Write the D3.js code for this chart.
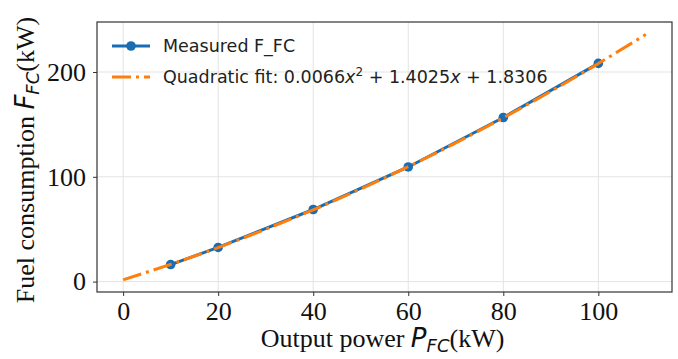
<!DOCTYPE html>
<html>
<head>
<meta charset="utf-8">
<script src="https://cdn.jsdelivr.net/npm/d3@7"></script>
<style>
  body { margin: 0; background: #fff; }
  svg { display: block; }
  .tick text { font-family: "Liberation Serif", "Times New Roman", serif; font-size: 26px; fill: #111; }
  .axis-label { font-family: "Liberation Serif", "Times New Roman", serif; font-size: 26px; fill: #111; }
  .math { font-family: "DejaVu Sans", sans-serif; font-style: italic; }
  .legend text { font-family: "DejaVu Sans", sans-serif; font-size: 17.5px; fill: #222; }
</style>
</head>
<body>
<div id="chart"></div>
<script>
// measured points
const powerKW = [10, 20, 40, 60, 80, 100];
const fuelKW = [16.3, 32.6, 68.8, 109.4, 156.6, 208.2];

// fitted curve
const fitX = [0, 10, 20, 30, 40, 50, 60, 70, 80, 90, 100, 110];
const fitY = [1.8, 16.5, 32.5, 50.0, 68.5, 88.4, 109.7, 132.3, 156.3, 181.5, 208.1, 235.9];

const xTicks = [0, 20, 40, 60, 80, 100];
const yTicks = [0, 100, 200];

const blue = "#1a6db3";
const orange = "#ff7f0e";

const width = 678;
const height = 359;
const margin = { top: 22, right: 6, bottom: 67, left: 97 };
const innerWidth = width - margin.left - margin.right;
const innerHeight = height - margin.top - margin.bottom;

const svg = d3.select("#chart")
  .append("svg")
  .attr("width", width)
  .attr("height", height);

const g = svg.append("g")
  .attr("transform", `translate(${margin.left},${margin.top})`);

const x = d3.scaleLinear()
  .domain([-5.5, 115.5])
  .range([0, innerWidth]);

const y = d3.scaleLinear()
  .domain([-9.9, 247.7])
  .range([innerHeight, 0]);

// grid
g.append("g")
  .selectAll("line")
  .data(xTicks)
  .enter()
  .append("line")
  .attr("x1", d => x(d))
  .attr("x2", d => x(d))
  .attr("y1", 0)
  .attr("y2", innerHeight)
  .attr("stroke", "#e3e3e3")
  .attr("stroke-width", 1);

g.append("g")
  .selectAll("line")
  .data(yTicks)
  .enter()
  .append("line")
  .attr("x1", 0)
  .attr("x2", innerWidth)
  .attr("y1", d => y(d))
  .attr("y2", d => y(d))
  .attr("stroke", "#e3e3e3")
  .attr("stroke-width", 1);

// measured line + markers
const line = d3.line()
  .x((d, i) => x(powerKW[i]))
  .y(d => y(d));

g.append("path")
  .datum(fuelKW)
  .attr("fill", "none")
  .attr("stroke", blue)
  .attr("stroke-width", 3)
  .attr("d", line);

g.selectAll(".pt")
  .data(fuelKW)
  .enter()
  .append("circle")
  .attr("class", "pt")
  .attr("cx", (d, i) => x(powerKW[i]))
  .attr("cy", d => y(d))
  .attr("r", 4.8)
  .attr("fill", blue);

// fit curve
const fitLine = d3.line()
  .x((d, i) => x(fitX[i]))
  .y(d => y(d))
  .curve(d3.curveMonotoneX);

g.append("path")
  .datum(fitY)
  .attr("fill", "none")
  .attr("stroke", orange)
  .attr("stroke-width", 3)
  .attr("stroke-dasharray", "19,5,3,5")
  .attr("d", fitLine);

// axes
const xAxis = d3.axisBottom(x).tickValues(xTicks).tickSize(4).tickPadding(6);
const yAxis = d3.axisLeft(y).tickValues(yTicks).tickSize(4).tickPadding(7);

const gx = g.append("g")
  .attr("transform", `translate(0,${innerHeight})`)
  .call(xAxis);
const gy = g.append("g").call(yAxis);

[gx, gy].forEach(a => {
  a.select(".domain").remove();
  a.selectAll(".tick line").attr("stroke", "#333");
});
gx.selectAll(".tick text").attr("y", 7).attr("dy", "0.8em");

g.append("rect")
  .attr("width", innerWidth)
  .attr("height", innerHeight)
  .attr("fill", "none")
  .attr("stroke", "#333")
  .attr("stroke-width", 1.2);

// axis labels
const xl = svg.append("text")
  .attr("class", "axis-label")
  .attr("x", margin.left + innerWidth / 2 - 2)
  .attr("y", height - 12)
  .attr("text-anchor", "middle");
xl.append("tspan").text("Output power ");
xl.append("tspan").attr("class", "math").text("P");
xl.append("tspan").attr("class", "math").attr("font-size", "18px").attr("dy", 5).text("FC");
xl.append("tspan").attr("dy", -5).text("(kW)");

const yl = svg.append("text")
  .attr("class", "axis-label")
  .attr("transform", "rotate(-90)")
  .attr("x", -160)
  .attr("y", 34)
  .attr("text-anchor", "middle");
yl.append("tspan").text("Fuel consumption ");
yl.append("tspan").attr("class", "math").text("F");
yl.append("tspan").attr("class", "math").attr("font-size", "18px").attr("dy", 5).text("FC");
yl.append("tspan").attr("dy", -5).text("(kW)");

// legend
const legend = svg.append("g").attr("class", "legend");

const row1 = legend.append("g").attr("transform", "translate(112,46)");
row1.append("line")
  .attr("x1", 0).attr("x2", 38)
  .attr("stroke", blue).attr("stroke-width", 3);
row1.append("circle").attr("cx", 19).attr("r", 4.8).attr("fill", blue);
row1.append("text").attr("x", 51).attr("dy", "0.35em").text("Measured F_FC");

const row2 = legend.append("g").attr("transform", "translate(112,77)");
row2.append("line")
  .attr("x1", 0).attr("x2", 38)
  .attr("stroke", orange).attr("stroke-width", 3)
  .attr("stroke-dasharray", "19,5,3,5");
const t2 = row2.append("text").attr("x", 51).attr("dy", "0.35em");
t2.append("tspan").text("Quadratic fit: 0.0066");
t2.append("tspan").attr("font-style", "italic").text("x");
t2.append("tspan").attr("font-size", "12px").attr("dy", -7).text("2");
t2.append("tspan").attr("dy", 7).text(" + 1.4025");
t2.append("tspan").attr("font-style", "italic").text("x");
t2.append("tspan").text(" + 1.8306");
</script>
</body>
</html>
